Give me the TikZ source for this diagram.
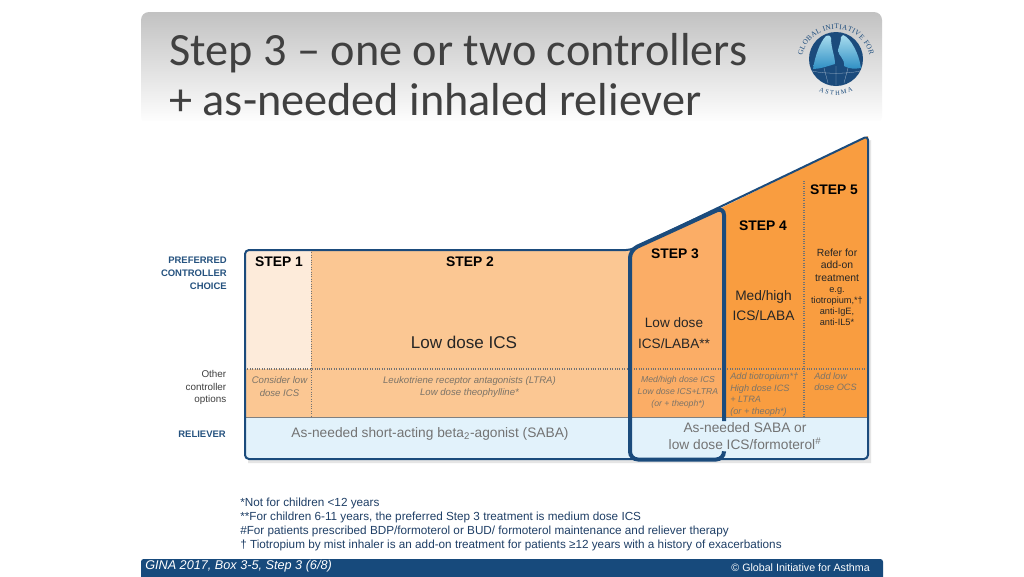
\documentclass[tikz,border=0pt]{standalone}
\usepackage{fontspec}
\setmainfont{Liberation Sans}
\newfontfamily\titlefont{Carlito}
\newfontfamily\logofont{Liberation Serif}
\usetikzlibrary{decorations.text,shadings}
\definecolor{navy}{HTML}{1B4B7C}
\definecolor{barblue}{HTML}{174A7C}
\definecolor{stepa}{HTML}{FDEBDA}
\definecolor{stepb}{HTML}{FBC793}
\definecolor{stepc}{HTML}{FBAD66}
\definecolor{stepd}{HTML}{F99D40}
\definecolor{relief}{HTML}{E2F2FB}
\definecolor{greytxt}{HTML}{7C7468}
\definecolor{labelblue}{HTML}{25527F}
\definecolor{noteblue}{HTML}{1F3F66}
\definecolor{lunga}{HTML}{A8DCEE}
\definecolor{lungb}{HTML}{2F8FC4}
\tikzset{
  x=0.75pt,y=-0.75pt,
  steptitle/.style={font=\fontsize{10.4}{12}\selectfont\bfseries,text=black,inner sep=0pt},
  drug/.style={align=center,text=black!85,inner sep=0pt},
  other/.style={align=center,text=greytxt,inner sep=0pt,font=\fontsize{7.2}{9.2}\selectfont\itshape},
  rowlabel/.style={align=right,anchor=east,inner sep=0pt,font=\fontsize{7.1}{9.7}\selectfont\bfseries,text=labelblue},
  optlabel/.style={align=right,anchor=east,inner sep=0pt,font=\fontsize{7.4}{9.7}\selectfont,text=black!75},
  reliever/.style={align=center,text=black!55,inner sep=0pt,font=\fontsize{10.3}{11.8}\selectfont},
  dotline/.style={densely dotted,line width=0.8pt,draw=black!55},
  note/.style={anchor=west,inner sep=0pt,text=noteblue,font=\fontsize{8.8}{10}\selectfont},
}
\begin{document}
\begin{tikzpicture}
\useasboundingbox (0,0) rectangle (1024,576);
\fill[white] (0,0) rectangle (1024,576);
% header
\shade[top color=black!24,bottom color=white,rounded corners=6pt] (141,12) rectangle (882,124);
\fill[white] (141,121) rectangle (882,130);
\node[anchor=north west,align=left,inner sep=0pt,text=black!75,font=\titlefont\fontsize{34.7}{37.5}\selectfont] (title) at (169,33.5) {Step 3 – one or two controllers\\+ as-needed inhaled reliever};
% logo
\fill[navy] (836,59) circle[radius=27];
\shade[top color=lunga,bottom color=lungb] (826,36) .. controls (820,42) and (815,56) .. (813,69) .. controls (820,69) and (828,66) .. (835,64) .. controls (835,56) and (831,48) .. (831,38) .. controls (830,35) and (828,35) .. (826,36) -- cycle;
\shade[top color=lunga,bottom color=lungb] (843,35) .. controls (851,38) and (859,54) .. (861,68) .. controls (855,69) and (849,69) .. (844,66) .. controls (845,58) and (838,56) .. (838,50) .. controls (839,46) and (841,42) .. (841,37) -- cycle;
\draw[white!60!navy,line width=0.2pt] (812,71) .. controls (825,74) and (847,74) .. (860,71) (836,66) -- (836,85) (824,68) -- (828,83) (848,68) -- (844,83);
\path[decorate,decoration={text along path,text align={fit to path},text={|\logofont\fontsize{5.4}{6}\selectfont\color{navy}|GLOBAL INITIATIVE FOR}}] (802.5,55.4) arc[start angle=190,end angle=350,x radius=34,y radius=32];
\path[decorate,decoration={text along path,text align={fit to path},text={|\logofont\fontsize{4.8}{6}\selectfont\color{navy}|ASTHMA}}] (819,91.2) arc[start angle=115,end angle=65,radius=40];
% shadow
\fill[black!10] (248,252) -- (632,254) -- (871,140) -- (871,463) -- (248,463) -- cycle;
% body fills
\fill[stepa] (245,250) rectangle (311,369);
\fill[stepb] (311,250) rectangle (630,369);
\fill[stepb] (245,369) rectangle (630,417);
\fill[stepc] (630,250) -- (723,207) -- (723,417) -- (630,417) -- cycle;
\fill[stepd] (723,207) -- (868,136) -- (868,417) -- (723,417) -- cycle;
\fill[relief] (245,417) rectangle (868,459);
% dotted dividers
\draw[dotline] (311.5,250) -- (311.5,417);
\draw[dotline] (245,369) -- (868,369);
\draw[dotline] (804,181) -- (804,417);
\draw[black!50,line width=0.7pt] (245,417.5) -- (868,417.5);
% outline
\draw[navy,line width=1.5pt,rounded corners=3pt,line join=round] (245,459) -- (245,250) -- (630,250) -- (868,136) -- (868,459) -- cycle;
% step 3 emphasis
\draw[navy,line width=3pt,rounded corners=6pt] (724,421) -- (724,207) -- (630,250) -- (630,459.5) -- (724,459.5) -- (724,452);
% step titles
\node[steptitle] (s1) at (279,262) {STEP 1};
\node[steptitle] (s2) at (470,262) {STEP 2};
\node[steptitle] (s3) at (675,254) {STEP 3};
\node[steptitle] (s4) at (763,226) {STEP 4};
\node[steptitle] (s5) at (834,190) {STEP 5};
% preferred
\node[drug,font=\fontsize{12.8}{14}\selectfont] (d2) at (464,342.5) {Low dose ICS};
\node[drug,font=\fontsize{10.2}{15.5}\selectfont] (d3) at (674,333) {Low dose\\ICS/LABA**};
\node[drug,font=\fontsize{10.3}{15.5}\selectfont] (d4) at (763.5,305.5) {Med/high\\ICS/LABA};
\node[drug,anchor=north,font=\fontsize{7.8}{9.3}\selectfont] (d5) at (837,248.5) {Refer for\\add-on\\treatment\\[-1pt]{\fontsize{6.9}{8}\selectfont e.g.}\\[-1pt]{\fontsize{6.9}{8}\selectfont tiotropium,*†}\\[-1pt]{\fontsize{6.9}{8}\selectfont anti-IgE,}\\[-1pt]{\fontsize{6.9}{8}\selectfont anti-IL5*}};
% other options
\node[other] (o1) at (279.5,386.5) {Consider low\\dose ICS};
\node[other] (o2) at (469.5,387) {Leukotriene receptor antagonists (LTRA)\\Low dose theophylline*};
\node[other,font=\fontsize{6.5}{8.9}\selectfont\itshape] (o3) at (678,392) {Med/high dose ICS\\Low dose ICS+LTRA\\(or + theoph*)};
\node[other,anchor=north west,align=left,font=\fontsize{6.9}{8.6}\selectfont\itshape] (o4) at (730,373) {Add tiotropium*†\\High dose ICS\\+ LTRA\\(or + theoph*)};
\node[other,anchor=north west,align=left,font=\fontsize{6.9}{8.3}\selectfont\itshape] (o5) at (814,372.5) {Add low\\dose OCS};
% reliever
\node[reliever] (r1) at (430,434) {As-needed short-acting beta\textsubscript{2}-agonist (SABA)};
\node[reliever,font=\fontsize{10.3}{12.3}\selectfont] (r2) at (745,436) {As-needed SABA or\\low dose ICS/formoterol\textsuperscript{\#}};
% row labels
\node[rowlabel] (l1) at (227,273) {PREFERRED\\CONTROLLER\\CHOICE};
\node[optlabel] (l2) at (226.5,387.5) {Other\\controller\\options};
\node[rowlabel] (l3) at (226,434) {RELIEVER};
% notes
\node[note] (n1) at (240,503) {*Not for children <12 years};
\node[note] (n2) at (240,517) {**For children 6-11 years, the preferred Step 3 treatment is medium dose ICS};
\node[note] (n3) at (240,531) {\#For patients prescribed BDP/formoterol or BUD/ formoterol maintenance and reliever therapy};
\node[note] (n4) at (240,545) {† Tiotropium by mist inhaler is an add-on treatment for patients ≥12 years with a history of exacerbations};
% footer
\fill[barblue,rounded corners=2pt] (141,559) rectangle (883,580);
\node[anchor=west,inner sep=0pt,text=white,font=\fontsize{9.5}{10}\selectfont\itshape] (f1) at (145,566) {GINA 2017, Box 3-5, Step 3 (6/8)};
\node[anchor=east,inner sep=0pt,text=white,font=\fontsize{8}{10}\selectfont] (f2) at (870,567.5) {© Global Initiative for Asthma};
\end{tikzpicture}
\end{document}
